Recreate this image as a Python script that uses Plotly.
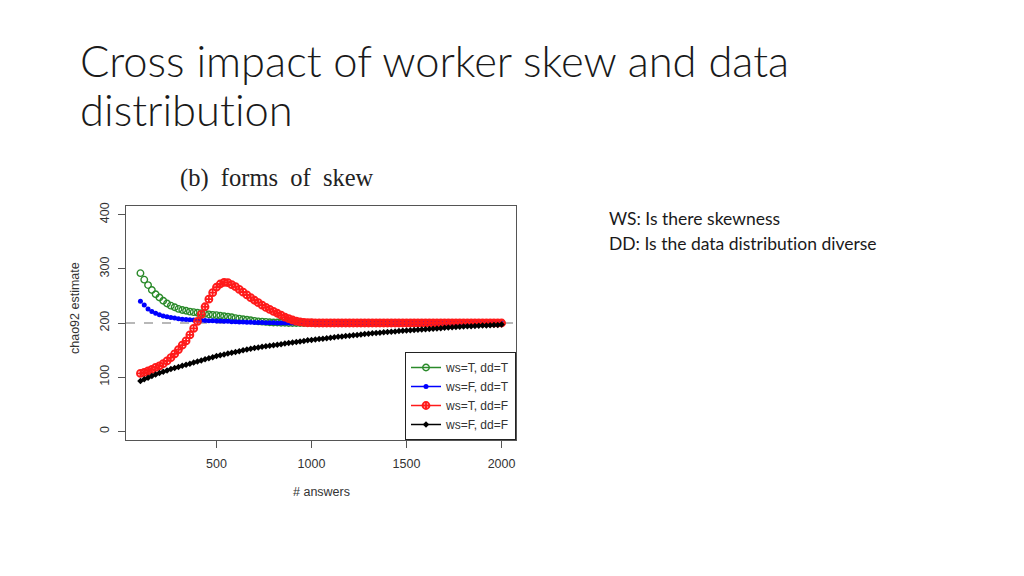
import plotly.graph_objects as go

# number of answers (x) and chao92 estimates for the four settings
answers = list(range(100, 2001, 20))

ws_t_dd_t = [
    292, 280, 270, 261, 253, 247, 241, 236, 232, 229,
    226, 224, 222.5, 221, 220, 219, 218, 217, 216, 215,
    214.5, 213.5, 212.5, 211.5, 210.5, 209, 208, 207, 206, 205,
    204, 203, 202.5, 202, 201.5, 201, 201, 200.5, 200.5, 200,
    200, 200, 200, 200, 200, 200, 200, 200, 200, 200,
    200, 200, 200, 200, 200, 200, 200, 200, 200, 200,
    200, 200, 200, 200, 200, 200, 200, 200, 200, 200,
    200, 200, 200, 200, 200, 200, 200, 200, 200, 200,
    200, 200, 200, 200, 200, 200, 200, 200, 200, 200,
    200, 200, 200, 200, 200, 200,
]

ws_f_dd_t = [
    240, 233, 226, 221, 218, 215, 213, 211.5, 210, 209,
    208, 207, 206.5, 206, 205.5, 205, 205, 204.5, 204, 204,
    203.5, 203.5, 203, 203, 202.5, 202.5, 202, 202, 201.5, 201.5,
    201, 201, 201, 200.5, 200.5, 200.5, 200, 200, 200, 200,
    200, 200, 200, 200, 200, 200, 200, 200, 200, 200,
    200, 200, 200, 200, 200, 200, 200, 200, 200, 200,
    200, 200, 200, 200, 200, 200, 200, 200, 200, 200,
    200, 200, 200, 200, 200, 200, 200, 200, 200, 200,
    200, 200, 200, 200, 200, 200, 200, 200, 200, 200,
    200, 200, 200, 200, 200, 200,
]

ws_t_dd_f = [
    107, 109, 111.5, 114.5, 118, 121, 125, 130, 136, 143,
    151, 159, 167, 178, 190, 203, 216, 230, 244, 256,
    266, 272, 275, 274.5, 271, 267, 262, 257, 252, 247,
    242, 237.5, 233, 229, 225, 221.5, 218, 214.5, 211, 208,
    205.5, 203.5, 202, 201, 200.5, 200.5, 200, 200, 200, 200,
    200, 200, 200, 200, 200, 200, 200, 200, 200, 200,
    200, 200, 200, 200, 200, 200, 200, 200, 200, 200,
    200, 200, 200, 200, 200, 200, 200, 200, 200, 200,
    200, 200, 200, 200, 200, 200, 200, 200, 200, 200,
    200, 200, 200, 200, 200, 200,
]

ws_f_dd_f = [
    93, 96, 99, 102, 105, 107.5, 110, 112.5, 115, 117,
    119, 121, 123, 125, 127, 129, 131, 133, 135, 137,
    139, 140.5, 142, 143.5, 145, 146.5, 148, 149.5, 151, 152.5,
    154, 155, 156, 157, 158, 159, 160, 161, 162, 163,
    164, 165, 166, 167, 168, 168.5, 169.5, 170.5, 171, 172,
    173, 173.5, 174.5, 175, 176, 176.5, 177.5, 178, 179, 179.5,
    180, 181, 181.5, 182, 183, 183.5, 184, 184.5, 185, 185.5,
    186, 186.5, 187, 187.5, 188, 188.5, 189, 189.5, 190, 190.5,
    191, 191.5, 192, 192.5, 193, 193.5, 194, 194, 194.5, 195,
    195.5, 195.5, 196, 196.5, 196.5, 197,
]

legend_labels = ["ws=T, dd=T", "ws=F, dd=T", "ws=T, dd=F", "ws=F, dd=F"]
true_value = 200

styles = [
    dict(color="#2a8a2a", symbol="circle-open", size=6.5, line=dict(width=1.4, color="#2a8a2a")),
    dict(color="#0000ff", symbol="circle", size=5),
    dict(color="#ff1a1a", symbol="circle-cross-open", size=7, line=dict(width=1.8, color="#ff1a1a")),
    dict(color="#000000", symbol="diamond", size=5),
]

fig = go.Figure()

for vals, lab, st in zip([ws_t_dd_t, ws_f_dd_t, ws_t_dd_f, ws_f_dd_f], legend_labels, styles):
    fig.add_trace(go.Scatter(x=answers, y=vals, mode="markers", marker=st,
                             showlegend=False, hoverinfo="skip"))

# legend entries drawn as line + marker, like R's legend()
for lab, st in zip(legend_labels, styles):
    fig.add_trace(go.Scatter(x=[None], y=[None], mode="lines+markers", name=lab,
                             marker=st, line=dict(color=st["color"], width=1.5)))

# dashed reference line at the true value
fig.add_shape(type="line", xref="x domain", x0=0, x1=1, yref="y", y0=true_value, y1=true_value,
              line=dict(color="#b8b8b8", width=2, dash="dash"), layer="below")

axis_font = dict(family="Liberation Sans, Arial", size=12.5, color="#333333")
slide_font = "Lato, Carlito, sans-serif"
zwnj = "\u200c"  # keeps "t" and "i" apart (no ligature)

fig.update_layout(
    width=1024, height=576,
    margin=dict(l=0, r=0, t=0, b=0, autoexpand=False),
    paper_bgcolor="white", plot_bgcolor="white",
    showlegend=True,
    legend=dict(x=516 / 1024, y=1 - 440 / 576, xanchor="right", yanchor="bottom",
                bordercolor="#222222", borderwidth=1, bgcolor="white",
                font=dict(family="Liberation Sans, Arial", size=12, color="#333333"),
                itemwidth=30, tracegroupgap=0),
    xaxis=dict(domain=[126 / 1024, 516 / 1024], range=[24, 2076],
               tickvals=[500, 1000, 1500, 2000], ticks="outside", ticklen=7,
               tickcolor="#555555", showline=True, linecolor="#555555", linewidth=1.3,
               mirror=True, showgrid=False, zeroline=False, tickfont=axis_font,
               ticklabelstandoff=5),
    yaxis=dict(domain=[1 - 440 / 576, 1 - 206 / 576], range=[-16, 416],
               tickvals=[0, 100, 200, 300, 400], ticks="outside", ticklen=7,
               tickcolor="#555555", showline=True, linecolor="#555555", linewidth=1.3,
               mirror=True, showgrid=False, zeroline=False, tickfont=axis_font,
               tickangle=-90, ticklabelstandoff=4),
)

annotations = [
    dict(text="Cross impact of worker skew and data", x=78 / 1024, y=1 - 60 / 576,
         xanchor="left", yanchor="middle", showarrow=False,
         font=dict(family=slide_font, size=43.5, color="#1a1a1a", weight=300)),
    dict(text="distribut" + zwnj + "ion", x=78 / 1024, y=1 - 109 / 576,
         xanchor="left", yanchor="middle", showarrow=False,
         font=dict(family=slide_font, size=43.5, color="#1a1a1a", weight=300)),
    dict(text="(b)  forms  of  skew", x=277 / 1024, y=1 - 178 / 576,
         xanchor="center", yanchor="middle", showarrow=False,
         font=dict(family="Liberation Serif, Times New Roman, serif", size=24.5, color="#222222")),
    dict(text="# answers", x=321 / 1024, y=1 - 492 / 576,
         xanchor="center", yanchor="middle", showarrow=False, font=axis_font),
    dict(text="chao92 estimate", x=75 / 1024, y=1 - 308 / 576, textangle=-90,
         xanchor="center", yanchor="middle", showarrow=False, font=axis_font),
    dict(text="WS: Is there skewness", x=607 / 1024, y=1 - 219 / 576,
         xanchor="left", yanchor="middle", showarrow=False,
         font=dict(family=slide_font, size=17.5, color="#1a1a1a")),
    dict(text="DD: Is the data distribut" + zwnj + "ion diverse", x=607 / 1024, y=1 - 243 / 576,
         xanchor="left", yanchor="middle", showarrow=False,
         font=dict(family=slide_font, size=17.5, color="#1a1a1a")),
]
for a in annotations:
    a["xref"] = "paper"
    a["yref"] = "paper"
fig.update_layout(annotations=annotations)

# drop the page's default body margin so the figure sits at (0, 0)
fig.write_html("out.html", config={"displayModeBar": False},
               post_script="document.body.style.margin='0';")
